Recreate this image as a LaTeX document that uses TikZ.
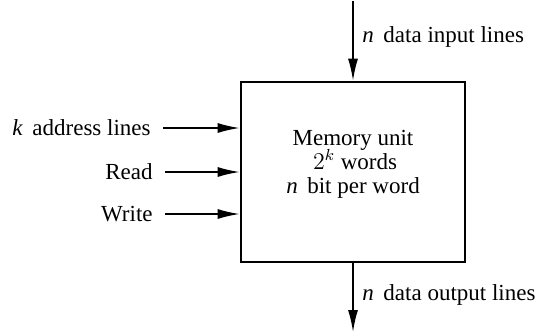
\documentclass[tikz,border=0pt]{standalone}
\usepackage{fontspec}
\setmainfont{Liberation Serif}
\usetikzlibrary{arrows.meta,positioning}
\tikzset{
  every picture/.style = {
    font=\fontsize{12}{14}\selectfont
  },
  memblock/.style={
    shape = rectangle,
    draw,
    line width=1.3pt,
    minimum width=112pt,
    minimum height=90pt,
    inner sep=0pt
  },
  memtext/.style={
    align=center,
    font=\fontsize{11.5}{12}\selectfont,
    inner sep=0pt
  },
  sig/.style={
    line width=0.8pt,
    -{Latex[length=11pt,width=5pt]}
  },
  lbl/.style={
    anchor = east,
    font=\fontsize{11.5}{14}\selectfont,
    inner sep=0pt
  },
  lblR/.style={
    anchor = west,
    font=\fontsize{11.5}{14}\selectfont,
    inner sep=0pt
  }
}

\begin{document}
\begin{tikzpicture}[x=0.5pt,y=-0.5pt]
       \useasboundingbox (0,0) rectangle (550,333);

       \node[memblock] (mem) at (353,172) {};
       \node[memtext] (memtxt) at ([yshift=4pt]mem.center) {Memory unit\\
         \hspace*{2pt}\smash{$2^k$} words\\
         \textit{n}\ \,bit per word};

       % inputs on the left
       \node[lbl] (addr) at (151,128) {\textit{k}\ \,address lines};
       \node[lbl] (rd) at (153,172) {Read};
       \node[lbl] (wr) at (153,214) {Write};

       \draw[sig] ([xshift=6pt]addr.east) -- (mem.west |- addr);
       \draw[sig] ([xshift=6pt]rd.east) -- (mem.west |- rd);
       \draw[sig] ([xshift=6pt]wr.east) -- (mem.west |- wr);

       % data lines
       \coordinate (din) at (mem.north |- 0,1);
       \coordinate (dout) at (mem.south |- 0,332);
       \draw[sig] (din) -- (mem.north);
       \draw[sig] (mem.south) -- (dout);

       \node[lblR] (inlbl) at (362,37) {\textit{n}\ \,data input lines};
       \node[lblR] (outlbl) at (362,295) {\textit{n}\ \,data output lines};

\end{tikzpicture}
\end{document}
